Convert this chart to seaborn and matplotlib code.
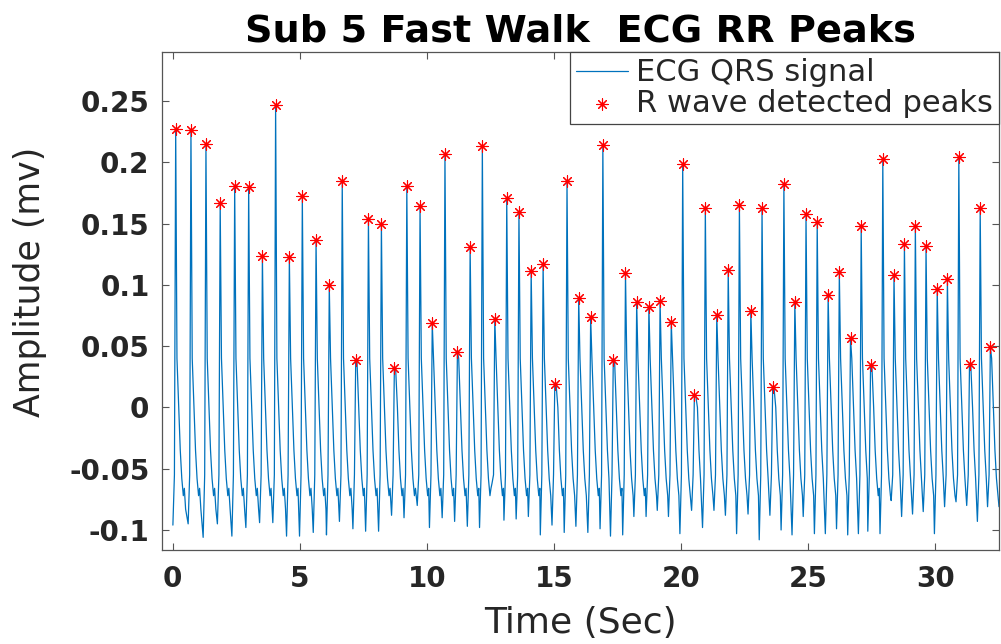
import numpy as np
import pandas as pd
import matplotlib
matplotlib.use("Agg")
import matplotlib.pyplot as plt
import seaborn as sns

# R peak times (s) and amplitudes (mv)
peak_t = [0.12, 0.72, 1.31, 1.87, 2.44, 2.99, 3.53, 4.05, 4.59, 5.10,
          5.64, 6.16, 6.67, 7.20, 7.70, 8.21, 8.72, 9.21, 9.73, 10.21,
          10.71, 11.20, 11.70, 12.18, 12.67, 13.14, 13.62, 14.10, 14.57, 15.03,
          15.51, 15.97, 16.44, 16.92, 17.33, 17.81, 18.25, 18.73, 19.17, 19.61,
          20.06, 20.52, 20.95, 21.40, 21.85, 22.29, 22.74, 23.18, 23.60, 24.04,
          24.47, 24.91, 25.35, 25.78, 26.22, 26.66, 27.08, 27.45, 27.93, 28.37,
          28.78, 29.21, 29.63, 30.07, 30.47, 30.92, 31.34, 31.76, 32.16]
peak_v = [0.227, 0.2265, 0.2148, 0.1666, 0.181, 0.1797, 0.1237, 0.247, 0.1226, 0.1723,
          0.1368, 0.0995, 0.1846, 0.0383, 0.1539, 0.150, 0.0318, 0.1808, 0.164, 0.069,
          0.2066, 0.0454, 0.1307, 0.2134, 0.0723, 0.171, 0.1596, 0.1115, 0.1169, 0.0193,
          0.1849, 0.0889, 0.0737, 0.2143, 0.0389, 0.1099, 0.0859, 0.0821, 0.087, 0.0696,
          0.1982, 0.0100, 0.1626, 0.0756, 0.112, 0.165, 0.0783, 0.1626, 0.0166, 0.1821,
          0.0856, 0.1574, 0.1511, 0.0916, 0.1104, 0.0563, 0.1476, 0.0348, 0.2023, 0.1082,
          0.1330, 0.1476, 0.1313, 0.0965, 0.1047, 0.2039, 0.0353, 0.1623, 0.0495]
# minimum of the signal just before each R peak
valley_v = [-0.096, -0.095, -0.106, -0.095, -0.105, -0.098, -0.094, -0.094, -0.105, -0.105,
            -0.102, -0.104, -0.093, -0.099, -0.101, -0.101, -0.088, -0.090, -0.080, -0.098,
            -0.090, -0.093, -0.097, -0.098, -0.062, -0.092, -0.091, -0.089, -0.104, -0.096,
            -0.102, -0.097, -0.102, -0.099, -0.105, -0.104, -0.089, -0.089, -0.084, -0.089,
            -0.103, -0.084, -0.098, -0.084, -0.088, -0.103, -0.087, -0.108, -0.088, -0.100,
            -0.104, -0.089, -0.103, -0.103, -0.099, -0.104, -0.103, -0.101, -0.103, -0.076,
            -0.089, -0.087, -0.085, -0.103, -0.081, -0.077, -0.080, -0.093, -0.081]
end_t, end_v = 32.5, -0.081

# shape of one beat around its R peak (offset s, amplitude mv), read from single beats
fall_dt = [0.05, 0.12, 0.18, 0.24, 0.30, 0.34, 0.39]
fall_v = [0.04, 0.0, -0.035, -0.058, -0.072, -0.066, -0.083]
rise_dt = [-0.11, -0.05]
rise_v = [None, -0.055]   # None -> valley value of that beat


def construirSinal():
    """Monta os vértices da linha do ECG a partir dos picos e vales lidos"""
    tempos, valores = [], []
    for i, (tp, vp) in enumerate(zip(peak_t, peak_v)):
        for dt, v in zip(rise_dt, rise_v):
            t = max(tp + dt, 0.0)
            if tempos and t <= tempos[-1]:
                continue
            tempos.append(t)
            valores.append(valley_v[i] if v is None else min(v, vp))
        tempos.append(tp)
        valores.append(vp)
        limite = peak_t[i + 1] + rise_dt[0] - 0.02 if i + 1 < len(peak_t) else end_t
        for dt, v in zip(fall_dt, fall_v):
            if tp + dt < limite:
                tempos.append(tp + dt)
                valores.append(min(v, vp))
    tempos.append(end_t)
    valores.append(end_v)
    return pd.DataFrame({'t': tempos, 'v': valores})


sns.set_style("ticks")
plt.rcParams['font.family'] = ['DejaVu Sans']

sinal = construirSinal()
picos = pd.DataFrame({'t': peak_t, 'v': peak_v})

fig = plt.figure(figsize=(10.01, 6.44), dpi=100)
ax = fig.add_axes([0.1618, 0.146, 0.8362, 0.773])

sns.lineplot(data=sinal, x='t', y='v', sort=False, estimator=None,
             color='#0072BD', linewidth=0.9, ax=ax, label='ECG QRS signal')
sns.scatterplot(data=picos, x='t', y='v', marker=(8, 2, 0), color='red',
                s=65, linewidth=0.8, ax=ax, label='R wave detected peaks', zorder=3)

ax.set_xlim(-0.42, 32.5)
ax.set_ylim(-0.1163, 0.2898)
ax.set_xticks([0, 5, 10, 15, 20, 25, 30])
ax.set_yticks([-0.1, -0.05, 0, 0.05, 0.1, 0.15, 0.2, 0.25])
ax.set_yticklabels(['-0.1', '-0.05', '0', '0.05', '0.1', '0.15', '0.2', '0.25'])

ax.tick_params(direction='in', length=5, width=0.8, colors='#555555',
               labelcolor='#262626', labelsize=20, top=True, right=True)
ax.tick_params(axis='x', pad=11)
ax.tick_params(axis='y', pad=9)
for lbl in ax.get_xticklabels() + ax.get_yticklabels():
    lbl.set_fontweight('bold')
for s in ax.spines.values():
    s.set_color('#555555')
    s.set_linewidth(0.9)

ax.set_title('Sub 5 Fast Walk  ECG RR Peaks', fontsize=27.5, weight='bold',
             color='black', pad=8)
ax.set_xlabel('Time (Sec)', fontsize=26, color='#262626', labelpad=9)
ax.set_ylabel('Amplitude (mv)', fontsize=25, color='#262626')
ax.yaxis.set_label_coords(-0.137, 0.538)

leg = ax.legend(loc='upper right', fontsize=22, frameon=True, fancybox=False,
                borderaxespad=0, framealpha=1, handlelength=1.7,
                handletextpad=0.25, borderpad=0.2, labelspacing=0.05)
leg.get_frame().set_edgecolor('#444444')
leg.get_frame().set_linewidth(0.9)

fig.savefig('out.png', dpi=100)
